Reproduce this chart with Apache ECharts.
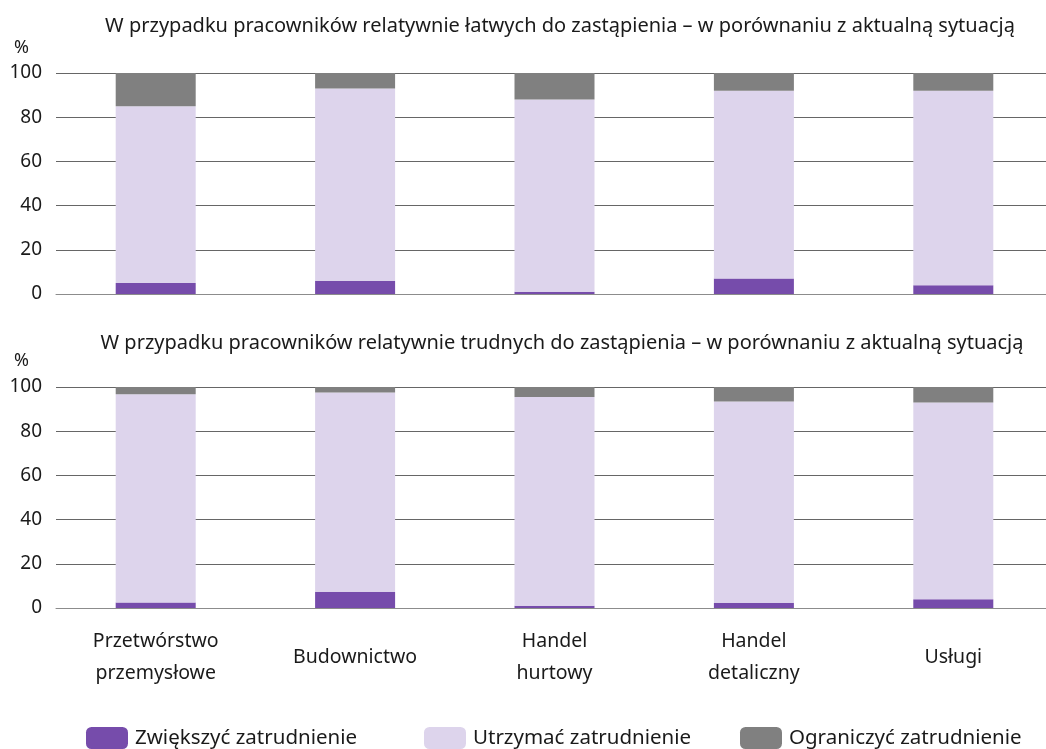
<!DOCTYPE html>
<html>
<head>
<meta charset="utf-8">
<script src="https://cdn.jsdelivr.net/npm/echarts@6/dist/echarts.min.js"></script>
<style>
html, body { margin: 0; padding: 0; background: #fff; overflow: hidden; }
#main { width: 1056px; height: 749px; }
</style>
</head>
<body>
<div id="main"></div>
<script>
var categories = ['Przetwórstwo\nprzemysłowe', 'Budownictwo', 'Handel\nhurtowy', 'Handel\ndetaliczny', 'Usługi'];
var seriesNames = ['Zwiększyć zatrudnienie', 'Utrzymać zatrudnienie', 'Ograniczyć zatrudnienie'];
var yTicks = [0, 20, 40, 60, 80, 100];

// latwych do zastapienia
var easyIncrease = [5, 6, 1, 7, 4];
var easyKeep = [80, 87, 87, 85, 88];
var easyReduce = [15, 7, 12, 8, 8];

// trudnych do zastapienia
var hardIncrease = [2.5, 7.4, 1, 2.4, 4];
var hardKeep = [94.2, 90.1, 94.5, 91, 89];
var hardReduce = [3.3, 2.5, 4.5, 6.6, 7];

var colors = ['#764cab', '#ddd4ec', '#808080'];
var font = 'Noto Sans';

var myChart = echarts.init(document.getElementById('main'));

function yAxis(idx) {
	return {
		type: 'value',
		gridIndex: idx,
		min: yTicks[0],
		max: yTicks[yTicks.length - 1],
		interval: 20,
		axisLine: { show: false },
		axisTick: { show: false },
		axisLabel: { color: '#1a1a1a', fontSize: 19, fontFamily: font, margin: 14 },
		splitLine: { lineStyle: { color: '#666', width: 1 } }
	};
}

function barSeries(name, data, idx, stack, color) {
	return {
		name: name,
		type: 'bar',
		stack: stack,
		xAxisIndex: idx,
		yAxisIndex: idx,
		barWidth: 80,
		itemStyle: { color: color },
		data: data
	};
}

var option = {
	animation: false,
	color: colors,
	title: [
		{
			text: 'W przypadku pracowników relatywnie łatwych do zastąpienia – w porównaniu z aktualną sytuacją',
			left: 555, top: 11, textAlign: 'center',
			textStyle: { fontFamily: font, fontSize: 20, fontWeight: 'normal', color: '#1a1a1a' }
		},
		{
			text: '%', left: 9, top: 34,
			textStyle: { fontFamily: font, fontSize: 18, fontWeight: 'normal', color: '#1a1a1a' }
		},
		{
			text: 'W przypadku pracowników relatywnie trudnych do zastąpienia – w porównaniu z aktualną sytuacją',
			left: 557, top: 328, textAlign: 'center',
			textStyle: { fontFamily: font, fontSize: 20, fontWeight: 'normal', color: '#1a1a1a' }
		},
		{
			text: '%', left: 9, top: 347,
			textStyle: { fontFamily: font, fontSize: 18, fontWeight: 'normal', color: '#1a1a1a' }
		}
	],
	legend: [
		{ data: [seriesNames[0]], left: 86, top: 727 },
		{ data: [seriesNames[1]], left: 424, top: 727 },
		{ data: [seriesNames[2]], left: 740, top: 727 }
	].map(function (l) {
		l.itemWidth = 42;
		l.itemHeight = 22;
		l.itemGap = 7;
		l.padding = 0;
		l.textStyle = { fontFamily: font, fontSize: 20.5, color: '#1a1a1a', padding: [0, 0, 0, 2] };
		return l;
	}),
	grid: [
		{ left: 56, top: 73, width: 997, height: 221 },
		{ left: 56, top: 387, width: 997, height: 221 }
	],
	xAxis: [
		{
			type: 'category', gridIndex: 0, data: categories,
			axisLine: { lineStyle: { color: '#8c8c8c' } },
			axisTick: { show: false },
			axisLabel: { show: false }
		},
		{
			type: 'category', gridIndex: 1, data: categories,
			axisLine: { lineStyle: { color: '#8c8c8c' } },
			axisTick: { show: false },
			axisLabel: {
				color: '#1a1a1a', fontSize: 19.5, fontFamily: font,
				lineHeight: 32, margin: 49, verticalAlign: 'middle'
			}
		}
	],
	yAxis: [yAxis(0), yAxis(1)],
	series: [
		barSeries(seriesNames[0], easyIncrease, 0, 'easy', colors[0]),
		barSeries(seriesNames[1], easyKeep, 0, 'easy', colors[1]),
		barSeries(seriesNames[2], easyReduce, 0, 'easy', colors[2]),
		barSeries(seriesNames[0], hardIncrease, 1, 'hard', colors[0]),
		barSeries(seriesNames[1], hardKeep, 1, 'hard', colors[1]),
		barSeries(seriesNames[2], hardReduce, 1, 'hard', colors[2])
	]
};
myChart.setOption(option, true);
</script>
</body>
</html>
